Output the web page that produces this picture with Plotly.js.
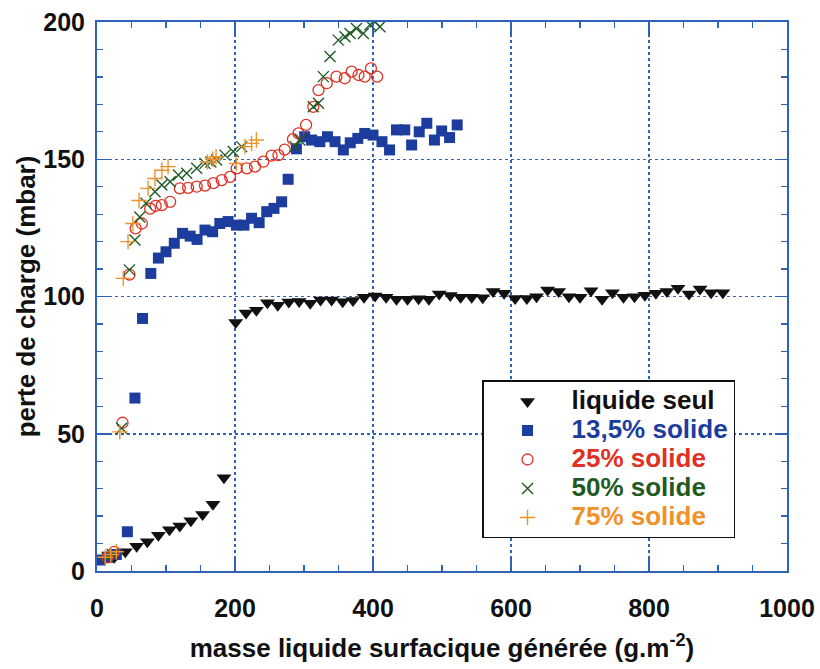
<!DOCTYPE html>
<html>
<head>
<meta charset="utf-8">
<script src="https://cdn.plot.ly/plotly-3.0.1.min.js"></script>
<style>html,body{margin:0;padding:0;background:#fff;}#chart{width:820px;height:669px;}</style>
</head>
<body>
<div id="chart"></div>
<script>
// Data
const liquideX = [25,41,57.5,73,89,105,120,136,153,168,184,201,216,231,247,262,278,293,309,324,340,356,371,387,403,419,434,450,466,481,496,512,527,543,559,574,590,606,623,637,653,669,684,700,716,732,747,763,779,794,810,826,842,858,874,890,907];
const liquideY = [5,7,9,10.7,13,15,16.4,18.3,20.6,24.3,34,90.5,94,95,97.7,96.8,98,98.2,97.5,98.7,98.7,98.1,98.5,99.7,100.2,99.7,99,99,99.2,99,100.9,100.4,99.7,99.7,99.5,101.8,101.2,99.3,99.3,99.9,102.4,101.8,99.9,99.7,102.1,99,101.4,99.7,99.9,100.5,101.2,101.8,103,100.9,102.7,101.4,101.4];

const s135X = [5,15,28,44,55,66,78,89,100,112,124,135,145,156.5,167.6,178,190,202,213,224,235,246,256.5,267.6,277,289,301,311,323,334,345,357,367,378,388,400,413,424,434,446,456,467,478,489,499.5,511,522];
const s135Y = [4,5,6,14.3,63,92,108.4,114,116.3,119.4,123,122,120.8,124.2,123.6,126.6,127.3,126,126,128.5,126.9,130.9,132.1,134.5,142.7,153.8,158.2,157,156.4,158.2,156.4,153.4,156,157.6,159.4,158.8,156.4,153.4,160.7,160.7,155.2,160,163.1,157,160.3,157.9,162.5];

const s25X = [15,25,37,47,56,65,77,85,94,106,120,132,144.5,156.5,168.6,180.7,192.8,202.4,217,229,241,253,263,272,284,292,303,313.5,321,333,347,359,369,379,388,397,406];
const s25Y = [5,7,54,108,124.8,126.6,132,133,133.3,134.5,139.4,139.6,140,140.4,141.3,142.4,143.6,146.7,146.7,147.3,149.1,151.3,151.5,153.5,157.3,159.4,162.5,169.1,175.2,177.7,180.1,179.5,181.9,180.7,180.1,183.1,180.1];

const s50X = [15,22,35.7,47,55,62,71,84,94,106,118,130,144.5,156.5,165,173.4,185.5,197.5,209.7,287,294,313.5,321,328,337.7,349.7,359.4,366.7,376,386,395.7,403,410];
const s50Y = [5,6,52,109.7,120.6,129,134,138.2,140.6,141.8,144.3,144.9,146.7,148.5,149,149.7,151.5,152.8,154.6,154.6,157,169.1,170.4,180.1,187.4,193.4,194.6,195.8,197.6,195.8,199,200,198.3];

const s75X = [12,20,28,33,38,45,52,61,74,84,94,103,160,168,172.5,202,214.5,224,231];
const s75Y = [5,6,7,50.7,106.6,120,126.6,135,139.4,143,146,147.3,149,150,150.9,148.5,154.6,155.8,157];

const names = ['liquide seul','13,5% solide','25% solide','50% solide','75% solide'];
const colors = ['#111111','#1c3d9e','#e03124','#1f5a24','#f0922a'];

const FONT = 'Liberation Sans, Arial, Helvetica, sans-serif';
const BLUE = '#2f63b8';

function lbl(i){ return '<span style="color:'+colors[i]+';font-size:26px">'+names[i]+'</span>'; }

const traces = [
  {x: liquideX, y: liquideY, mode:'markers', type:'scatter', name: lbl(0),
   marker:{symbol:'triangle-down', size:13, color:colors[0]}},
  {x: s135X, y: s135Y, mode:'markers', type:'scatter', name: lbl(1),
   marker:{symbol:'square', size:11, color:colors[1]}},
  {x: s25X, y: s25Y, mode:'markers', type:'scatter', name: lbl(2),
   marker:{symbol:'circle-open', size:11, color:colors[2], line:{width:1.3}}},
  {x: s50X, y: s50Y, mode:'markers', type:'scatter', name: lbl(3),
   marker:{symbol:'x-thin-open', size:11, color:colors[3], line:{width:1.4, color:colors[3]}}},
  {x: s75X, y: s75Y, mode:'markers', type:'scatter', name: lbl(4),
   marker:{symbol:'cross-thin-open', size:11, color:colors[4], line:{width:1.4, color:colors[4]}}}
];

const layout = {
  width:820, height:669,
  margin:{l:97, r:33, t:22, b:98},
  paper_bgcolor:'#fff', plot_bgcolor:'#fff',
  font:{family:FONT, color:'#111', size:25, weight:'bold'},
  showlegend:true,
  legend:{x:0.558, y:0.347, xanchor:'left', yanchor:'top',
          bgcolor:'#fff', bordercolor:'#111', borderwidth:1.5,
          font:{family:FONT, size:20, weight:'bold'},
          itemwidth:78, tracegroupgap:0},
  xaxis:{range:[0,1000], dtick:200, tick0:0, showline:true, linecolor:BLUE, linewidth:2,
         mirror:'ticks', ticks:'inside', ticklen:12, tickwidth:1.5, tickcolor:BLUE,
         minor:{dtick:50, ticks:'inside', ticklen:6, tickcolor:BLUE, tickwidth:1.2, showgrid:false},
         showgrid:true, gridcolor:BLUE, griddash:'3px,3px', gridwidth:1.5, zeroline:false,
         tickfont:{family:FONT, size:25, weight:'bold', color:'#111'}, ticklabelstandoff:14,
         title:{text:'masse liquide surfacique générée (g.m<sup>-2</sup>)', standoff:18,
                font:{family:FONT, size:26, weight:'bold', color:'#111'}}},
  yaxis:{range:[0,200], dtick:50, tick0:0, showline:true, linecolor:BLUE, linewidth:2,
         mirror:'ticks', ticks:'inside', ticklen:12, tickwidth:1.5, tickcolor:BLUE,
         minor:{dtick:10, ticks:'inside', ticklen:6, tickcolor:BLUE, tickwidth:1.2, showgrid:false},
         showgrid:true, gridcolor:BLUE, griddash:'3px,3px', gridwidth:1.5, zeroline:false,
         tickfont:{family:FONT, size:25, weight:'bold', color:'#111'}, ticklabelstandoff:5,
         title:{text:'perte de charge (mbar)', standoff:0,
                font:{family:FONT, size:26, weight:'bold', color:'#111'}}}
};

Plotly.newPlot('chart', traces, layout, {displayModeBar:false, staticPlot:true});
</script>
</body>
</html>
